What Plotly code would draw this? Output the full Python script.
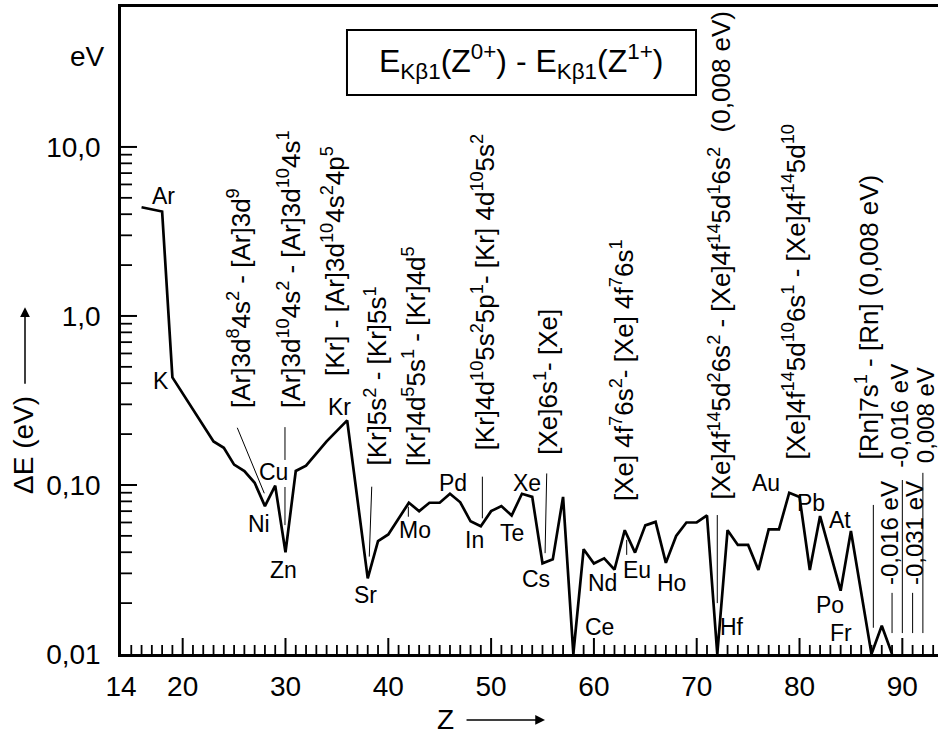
import math
import plotly.graph_objects as go

# ---------------- data ----------------
Z_VALUES = [16, 18, 19, 23, 24, 25, 26, 27, 28, 29, 30, 31, 32, 34, 36,
            38, 39, 40, 42, 43, 44, 45, 46, 47, 48, 49, 50, 51, 52, 53, 54,
            55, 56, 57, 58, 59, 60, 61, 62, 63, 64, 65, 66, 67, 68, 69, 70,
            71, 72, 73, 74, 75, 76, 77, 78, 79, 80, 81, 82, 84, 85, 87, 88, 89]
DELTA_E = [4.4, 4.15, 0.433, 0.181, 0.166, 0.132, 0.121, 0.103, 0.075, 0.099,
           0.040, 0.121, 0.130, 0.181, 0.241,
           0.028, 0.0466, 0.051, 0.0785, 0.070, 0.0785, 0.0785, 0.0887, 0.079,
           0.061, 0.057, 0.070, 0.075, 0.066, 0.0887, 0.085,
           0.0344, 0.0363, 0.085, 0.010, 0.0417, 0.0343, 0.0368, 0.0316, 0.054,
           0.0398, 0.0577, 0.0605, 0.0346, 0.0499, 0.060, 0.060,
           0.066, 0.010, 0.054, 0.0442, 0.0442, 0.0314, 0.0546, 0.0546, 0.090,
           0.085, 0.0314, 0.0655, 0.0237, 0.0534, 0.010, 0.0147, 0.010]

X_TICKS = [14, 20, 30, 40, 50, 60, 70, 80, 90]
Y_TICKS = [0.01, 0.1, 1, 10]
Y_TICK_TEXT = ["0,01", "0,10", "1,0", "10,0"]

ELEMENTS = ["Ar", "K", "Ni", "Cu", "Zn", "Kr", "Sr", "Mo", "Pd", "In", "Te", "Xe",
            "Cs", "Ce", "Nd", "Eu", "Ho", "Hf", "Au", "Pb", "At", "Po", "Fr"]
ELEM_Z = [18.18, 17.89, 27.42, 28.88, 29.76, 35.21, 37.83, 42.60, 46.30, 48.34,
          52.04, 53.49, 54.37, 60.50, 60.79, 64.19, 67.50, 73.47, 76.78, 81.09,
          83.91, 82.94, 84.01]
ELEM_E = [5.13, 0.412, 0.0588, 0.119, 0.0314, 0.290, 0.0223, 0.0542, 0.103, 0.0473,
          0.0520, 0.103, 0.0278, 0.0144, 0.0263, 0.0314, 0.0263, 0.0144, 0.103, 0.0782,
          0.0621, 0.0195, 0.0133]

CONFIGS = [
    "[Ar]3d<sup>8</sup>4s<sup>2</sup> - [Ar]3d<sup>9</sup>",
    "[Ar]3d<sup>10</sup>4s<sup>2</sup> - [Ar]3d<sup>10</sup>4s<sup>1</sup>",
    "[Kr] - [Ar]3d<sup>10</sup>4s<sup>2</sup>4p<sup>5</sup>",
    "[Kr]5s<sup>2</sup> - [Kr]5s<sup>1</sup>",
    "[Kr]4d<sup>5</sup>5s<sup>1</sup> - [Kr]4d<sup>5</sup>",
    "[Kr]4d<sup>10</sup>5s<sup>2</sup>5p<sup>1</sup>- [Kr] 4d<sup>10</sup>5s<sup>2</sup>",
    "[Xe]6s<sup>1</sup>- [Xe]",
    "[Xe] 4f<sup>7</sup>6s<sup>2</sup>- [Xe] 4f<sup>7</sup>6s<sup>1</sup>",
    "[Xe]4f<sup>14</sup>5d<sup>2</sup>6s<sup>2</sup> - [Xe]4f<sup>14</sup>5d<sup>1</sup>6s<sup>2</sup>\u00a0\u00a0(0,008 eV)",
    "[Xe]4f<sup>14</sup>5d<sup>10</sup>6s<sup>1</sup> - [Xe]4f<sup>14</sup>5d<sup>10</sup>",
    "[Rn]7s<sup>1</sup> - [Rn] (0,008 eV)",
]
CONF_Z = [25.58, 30.44, 34.72, 38.81, 42.50, 49.21, 55.44, 62.74, 72.27, 79.47, 86.57]
CONF_E = [0.278, 0.278, 0.430, 0.126, 0.126, 0.157, 0.147, 0.0782, 0.0793, 0.137, 0.137]

SMALL_NOTES = ["-0,016 eV", "0,008 eV", "-0,016 eV", "-0,031 eV"]
NOTE_Z = [89.78, 92.21, 88.71, 91.14]
NOTE_E = [0.123, 0.131, 0.0249, 0.0249]

LEADERS = [
    ((25.31, 0.218), (27.94, 0.0893)),
    ((29.95, 0.220), (29.95, 0.1406)),
    ((29.95, 0.0973), (29.95, 0.0579)),
    ((38.39, 0.0977), (38.15, 0.0377)),
    ((41.95, 0.0744), (41.95, 0.0649)),
    ((49.15, 0.112), (49.15, 0.0635)),
    ((55.41, 0.117), (55.25, 0.0395)),
    ((63.19, 0.0473), (63.19, 0.0386)),
    ((72.0, 0.0664), (72.0, 0.0200)),
    ((87.18, 0.0762), (87.18, 0.0143)),
    ((89.0, 0.0230), (89.0, 0.0133)),
    ((90.0, 0.107), (90.0, 0.0133)),
    ((91.0, 0.0230), (91.0, 0.0133)),
    ((92.0, 0.118), (92.0, 0.0133)),
]

FONT = "Liberation Sans, Arial, Helvetica, sans-serif"
X_RANGE = [14, 93.47]
Y_RANGE = [-2, 1.828]
W, H = 938, 738
M = dict(l=121, r=0, t=7, b=84)
PLOT_W = W - M["l"] - M["r"]
PLOT_H = H - M["t"] - M["b"]

# tick marks (inside), drawn through the axes' own scales
X_PER_PX = (X_RANGE[1] - X_RANGE[0]) / PLOT_W
LOG_PER_PX = (Y_RANGE[1] - Y_RANGE[0]) / PLOT_H
MAJOR_PX, MINOR_X_PX, MINOR_Y_PX = 16, 9, 11
y_base = 10 ** Y_RANGE[0]
x_base = X_RANGE[0]

tick_major_x, tick_major_y = [], []
tick_minor_x, tick_minor_y = [], []
for v in range(15, 94):
    if v % 10 == 0:
        tick_major_x += [v, v, None]
        tick_major_y += [y_base, y_base * 10 ** (MAJOR_PX * LOG_PER_PX), None]
    else:
        tick_minor_x += [v, v, None]
        tick_minor_y += [y_base, y_base * 10 ** (MINOR_X_PX * LOG_PER_PX), None]
for p in range(-2, 1):
    for k in range(1, 10):
        val = k * 10 ** p
        if k == 1:
            if p == -2:
                continue
            tick_major_x += [x_base, x_base + MAJOR_PX * X_PER_PX, None]
            tick_major_y += [val, val, None]
        else:
            tick_minor_x += [x_base, x_base + MINOR_Y_PX * X_PER_PX, None]
            tick_minor_y += [val, val, None]
tick_major_x += [x_base, x_base + MAJOR_PX * X_PER_PX, None]
tick_major_y += [10, 10, None]

fig = go.Figure()
fig.add_trace(go.Scatter(x=tick_minor_x, y=tick_minor_y, mode="lines",
                         line=dict(color="black", width=1.8),
                         hoverinfo="skip", showlegend=False))
fig.add_trace(go.Scatter(x=tick_major_x, y=tick_major_y, mode="lines",
                         line=dict(color="black", width=2),
                         hoverinfo="skip", showlegend=False))
fig.add_trace(go.Scatter(x=Z_VALUES, y=DELTA_E, mode="lines",
                         line=dict(color="black", width=2.7),
                         cliponaxis=False, hoverinfo="skip", showlegend=False))

lx, ly = [], []
for (a, b) in LEADERS:
    lx += [a[0], b[0], None]
    ly += [a[1], b[1], None]
fig.add_trace(go.Scatter(x=lx, y=ly, mode="lines", line=dict(color="black", width=1),
                         hoverinfo="skip", showlegend=False))

ann = []
for t, z, e in zip(ELEMENTS, ELEM_Z, ELEM_E):
    ann.append(dict(x=z, y=math.log10(e), xref="x", yref="y", text=t, showarrow=False,
                    font=dict(size=23, color="black", family=FONT)))
for t, z, e in zip(CONFIGS, CONF_Z, CONF_E):
    ann.append(dict(x=z, y=math.log10(e), xref="x", yref="y", text=t, showarrow=False,
                    textangle=-90, xanchor="center", yanchor="bottom",
                    font=dict(size=26, color="black", family=FONT)))
for t, z, e in zip(SMALL_NOTES, NOTE_Z, NOTE_E):
    ann.append(dict(x=z, y=math.log10(e), xref="x", yref="y", text=t, showarrow=False,
                    textangle=-90, xanchor="center", yanchor="bottom",
                    font=dict(size=24, color="black", family=FONT)))

# non-data labels
ann.append(dict(x=-0.017, y=0.924, xref="paper", yref="paper", text="eV", showarrow=False,
                xanchor="right", yanchor="middle", font=dict(size=28, color="black", family=FONT)))
ann.append(dict(x=-0.120, y=0.323, xref="paper", yref="paper", text="ΔE (eV)", showarrow=False,
                textangle=-90, xanchor="center", yanchor="middle",
                font=dict(size=28, color="black", family=FONT)))
ann.append(dict(x=-0.1175, y=0.536, xref="paper", yref="paper", text="", showarrow=True,
                ax=0, ay=78, arrowhead=2, arrowsize=1.3, arrowwidth=1.5, arrowcolor="black"))
ann.append(dict(x=0.3966, y=-0.102, xref="paper", yref="paper", text="Z", showarrow=False,
                xanchor="center", yanchor="middle", font=dict(size=28, color="black", family=FONT)))
ann.append(dict(x=0.519, y=-0.102, xref="paper", yref="paper", text="", showarrow=True,
                ax=-80, ay=0, arrowhead=2, arrowsize=1.3, arrowwidth=1.5, arrowcolor="black"))
ann.append(dict(x=0.4896, y=0.915, xref="paper", yref="paper",
                text="E<sub>Kβ1</sub>(Z<sup>0+</sup>) - E<sub>Kβ1</sub>(Z<sup>1+</sup>)",
                showarrow=False, xanchor="center", yanchor="middle",
                font=dict(size=32, color="black", family=FONT)))

shapes = [dict(type="rect", xref="paper", yref="paper", x0=0.2766, x1=0.7038,
               y0=0.864, y1=0.9645, line=dict(color="black", width=2))]

fig.update_layout(
    width=W, height=H,
    margin=M,
    paper_bgcolor="white", plot_bgcolor="white",
    font=dict(family=FONT, color="black"),
    annotations=ann, shapes=shapes, showlegend=False,
    xaxis=dict(range=X_RANGE, tickmode="array", tickvals=X_TICKS,
               ticktext=[str(v) for v in X_TICKS], ticks="",
               showline=True, linewidth=2.5, linecolor="black", mirror=True,
               showgrid=False, zeroline=False, ticklabelstandoff=6,
               tickfont=dict(size=28, color="black", family=FONT)),
    yaxis=dict(type="log", range=Y_RANGE, tickmode="array", tickvals=Y_TICKS,
               ticktext=Y_TICK_TEXT, ticks="",
               showline=True, linewidth=2.5, linecolor="black", mirror=False,
               showgrid=False, zeroline=False, ticklabelstandoff=12,
               tickfont=dict(size=28, color="black", family=FONT)),
)

fig.write_html("out.html")
